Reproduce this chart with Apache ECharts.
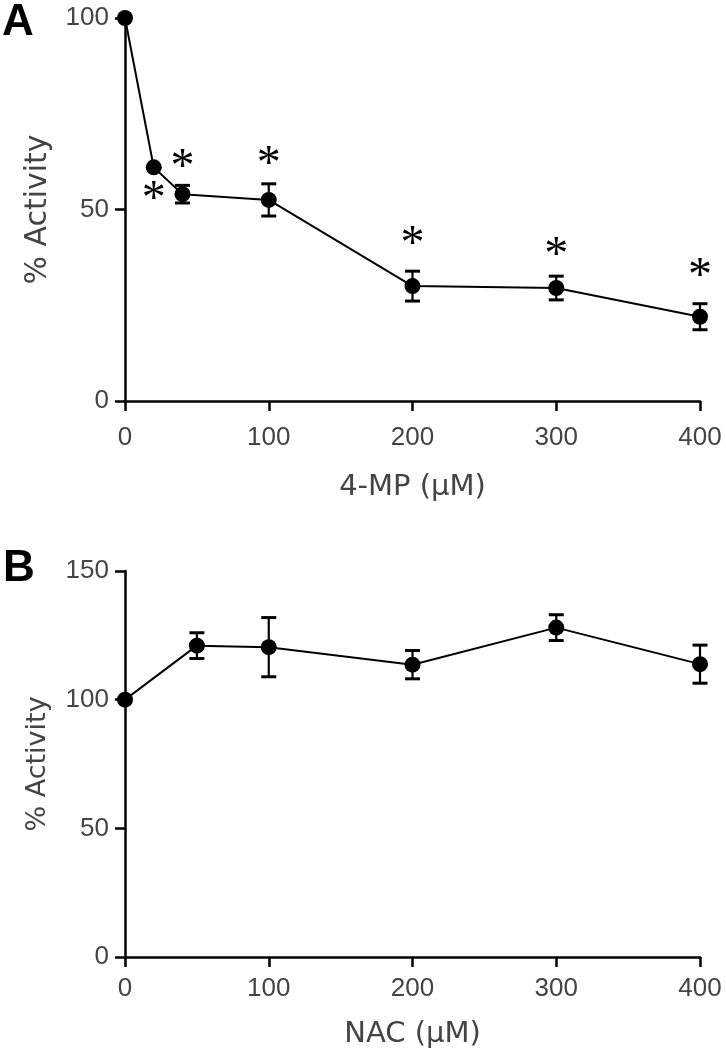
<!DOCTYPE html>
<html>
<head>
<meta charset="utf-8">
<script src="https://cdn.jsdelivr.net/npm/echarts@6/dist/echarts.min.js"></script>
<style>html,body{margin:0;padding:0;background:#fff}#c{width:726px;height:1050px}</style>
</head>
<body>
<div id="c"></div>
<script>
// Panel A: 4-MP
const xA = [0, 20, 40, 100, 200, 300, 400];
const yA = [100, 61, 54, 52.5, 30, 29.5, 22];
const errA = [0, 0, 2.3, 4.2, 3.9, 3.1, 3.4];
const starYA = [null, 54.5, 62.7, 63.6, 42.7, 39.8, 34.3];
// Panel B: NAC
const xB = [0, 50, 100, 200, 300, 400];
const yB = [100, 121, 120.4, 113.6, 128, 113.8];
const errB = [0, 5, 11.5, 5.5, 5, 7.4];
// Axes
const xMax = 400, xInterval = 100;
const yMaxA = 100, yMaxB = 150, yInterval = 50;
const titleA = '4-MP (µM)', titleB = 'NAC (µM)', yTitle = '% Activity';

const chart = echarts.init(document.getElementById('c'), null, {renderer: 'canvas'});

function axisX(idx, name, labelMargin, nameGap) {
  return {
    type: 'value', gridIndex: idx, min: 0, max: xMax, interval: xInterval,
    name: name, nameLocation: 'middle', nameGap: nameGap,
    nameTextStyle: {fontFamily: 'DejaVu Sans', fontSize: 29, color: '#444'},
    axisLine: {show: true, lineStyle: {color: '#000', width: 2.5}},
    axisTick: {show: true, length: 10, lineStyle: {color: '#000', width: 2.5}},
    axisLabel: {fontFamily: 'Liberation Sans', fontSize: 26, color: '#444', margin: labelMargin},
    splitLine: {show: false}
  };
}
function axisY(idx, max, fontSize, nameGap) {
  return {
    type: 'value', gridIndex: idx, min: 0, max: max, interval: yInterval,
    name: yTitle, nameLocation: 'middle', nameGap: nameGap, nameRotate: 90,
    nameTextStyle: {fontFamily: 'DejaVu Sans', fontSize: fontSize, color: '#444'},
    axisLine: {show: true, lineStyle: {color: '#000', width: 2.5}},
    axisTick: {show: true, length: 10, lineStyle: {color: '#000', width: 2.5}},
    axisLabel: {fontFamily: 'Liberation Sans', fontSize: 26, color: '#444', margin: 16},
    splitLine: {show: false}
  };
}

function errSeries(idx, xs, ys, es) {
  return {
    type: 'custom', xAxisIndex: idx, yAxisIndex: idx, z: 2, clip: false,
    data: xs.map((x, i) => [x, ys[i] - es[i], ys[i] + es[i]]),
    renderItem: function (params, api) {
      const x = api.value(0), lo = api.value(1), hi = api.value(2);
      if (hi - lo <= 0) return null;
      const p1 = api.coord([x, hi]), p2 = api.coord([x, lo]);
      const w = 7.5;
      const st = {stroke: '#000', lineWidth: 2.2};
      const cap = {stroke: '#000', lineWidth: 3};
      return {type: 'group', children: [
        {type: 'line', shape: {x1: p1[0], y1: p1[1], x2: p2[0], y2: p2[1]}, style: st},
        {type: 'line', shape: {x1: p1[0] - w, y1: p1[1], x2: p1[0] + w, y2: p1[1]}, style: cap},
        {type: 'line', shape: {x1: p2[0] - w, y1: p2[1], x2: p2[0] + w, y2: p2[1]}, style: cap}
      ]};
    }
  };
}

function lineSeries(idx, xs, ys) {
  return {
    type: 'line', xAxisIndex: idx, yAxisIndex: idx, z: 3, clip: false,
    data: xs.map((x, i) => [x, ys[i]]),
    symbol: 'circle', symbolSize: 16, showSymbol: true,
    itemStyle: {color: '#000'},
    lineStyle: {color: '#000', width: 2},
    animation: false
  };
}

const starSeries = {
  type: 'custom', xAxisIndex: 0, yAxisIndex: 0, z: 4, clip: false,
  data: xA.map((x, i) => [x, starYA[i]]).filter(d => d[1] !== null),
  renderItem: function (params, api) {
    const p = api.coord([api.value(0), api.value(1)]);
    return {type: 'text', x: p[0], y: p[1] + 8, style: {
      text: '*', align: 'center', verticalAlign: 'middle',
      font: '48px "Liberation Serif"', fill: '#000'
    }};
  }
};

chart.setOption({
  animation: false,
  backgroundColor: '#fff',
  grid: [
    {left: 125, right: 26, top: 18, height: 383},
    {left: 125, right: 26, top: 571, height: 388}
  ],
  xAxis: [axisX(0, titleA, 24, 72), axisX(1, titleB, 19, 63)],
  yAxis: [axisY(0, yMaxA, 30, 72), axisY(1, yMaxB, 27, 74)],
  graphic: [
    {type: 'text', left: 2, top: 1, style: {text: 'A', font: 'bold 44px "Liberation Sans"', fill: '#000'}},
    {type: 'text', left: 3, top: 547, style: {text: 'B', font: 'bold 44px "Liberation Sans"', fill: '#000'}}
  ],
  series: [
    errSeries(0, xA, yA, errA),
    lineSeries(0, xA, yA),
    starSeries,
    errSeries(1, xB, yB, errB),
    lineSeries(1, xB, yB)
  ]
});
</script>
</body>
</html>
